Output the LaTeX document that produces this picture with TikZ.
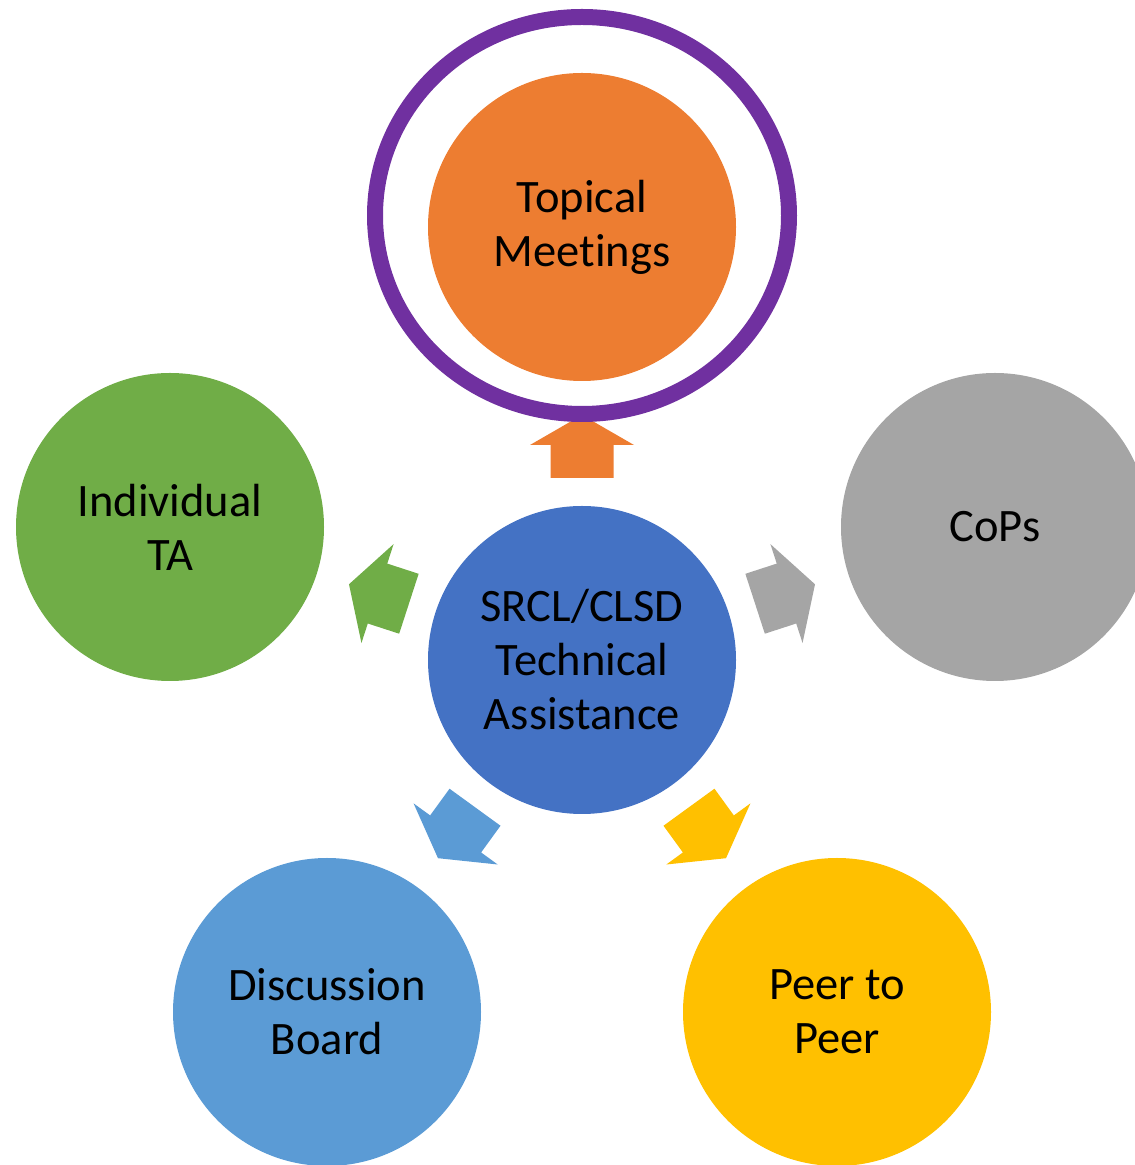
\documentclass[tikz,border=0pt]{standalone}
\usepackage{fontspec}
\setmainfont[Ligatures=NoCommon]{Carlito}
\usetikzlibrary{shapes.geometric}

\definecolor{taOrange}{HTML}{ED7D31}
\definecolor{taBlue}{HTML}{4472C4}
\definecolor{taGreen}{HTML}{70AD47}
\definecolor{taGray}{HTML}{A5A5A5}
\definecolor{taSky}{HTML}{5B9BD5}
\definecolor{taGold}{HTML}{FFC000}
\definecolor{taPurple}{HTML}{7030A0}

% block arrow pointing out of the hub at a given angle
\newcommand{\hubarrow}[2]{%
  \begin{scope}[shift={(hub.center)}, rotate=#1]
    \fill[#2] (182,-31.5) -- (215,-31.5) -- (215,-52) -- (245,0)
      -- (215,52) -- (215,31.5) -- (182,31.5) -- cycle;
  \end{scope}}

\begin{document}
\begin{tikzpicture}[
        x=1pt, y=1pt,
        bubble/.style={circle, minimum size=308pt, inner sep=0pt, align=center,
          font=\fontsize{46.5}{54}\selectfont},
        ring/.style={ellipse, draw=taPurple, line width=16pt,
          minimum width=414pt, minimum height=397pt, inner sep=0pt}
    ]
        \useasboundingbox (0,0) rectangle (1135,1165);
        \clip (0,0) rectangle (1135,1165);

        % Centre and the five services
        \node[bubble, fill=taBlue] (hub) at (582,505) {SRCL/CLSD\\Technical\\Assistance};

        \hubarrow{90}{taOrange}
        \hubarrow{162}{taGreen}
        \hubarrow{18}{taGray}
        \hubarrow{234}{taSky}
        \hubarrow{306}{taGold}

        \node[bubble, fill=taOrange] (topical) at (582,938) {Topical\\Meetings};
        \node[bubble, fill=taGreen] (indiv) at (170,638) {Individual\\TA};
        \node[bubble, fill=taGray] (cops) at (995,638) {CoPs};
        \node[bubble, fill=taSky] (board) at (327,153) {Discussion\\Board};
        \node[bubble, fill=taGold] (peer) at (837,153) {Peer to\\Peer};

        \node[ring] (focus) at (582,949.5) {};
    \end{tikzpicture}
\end{document}
